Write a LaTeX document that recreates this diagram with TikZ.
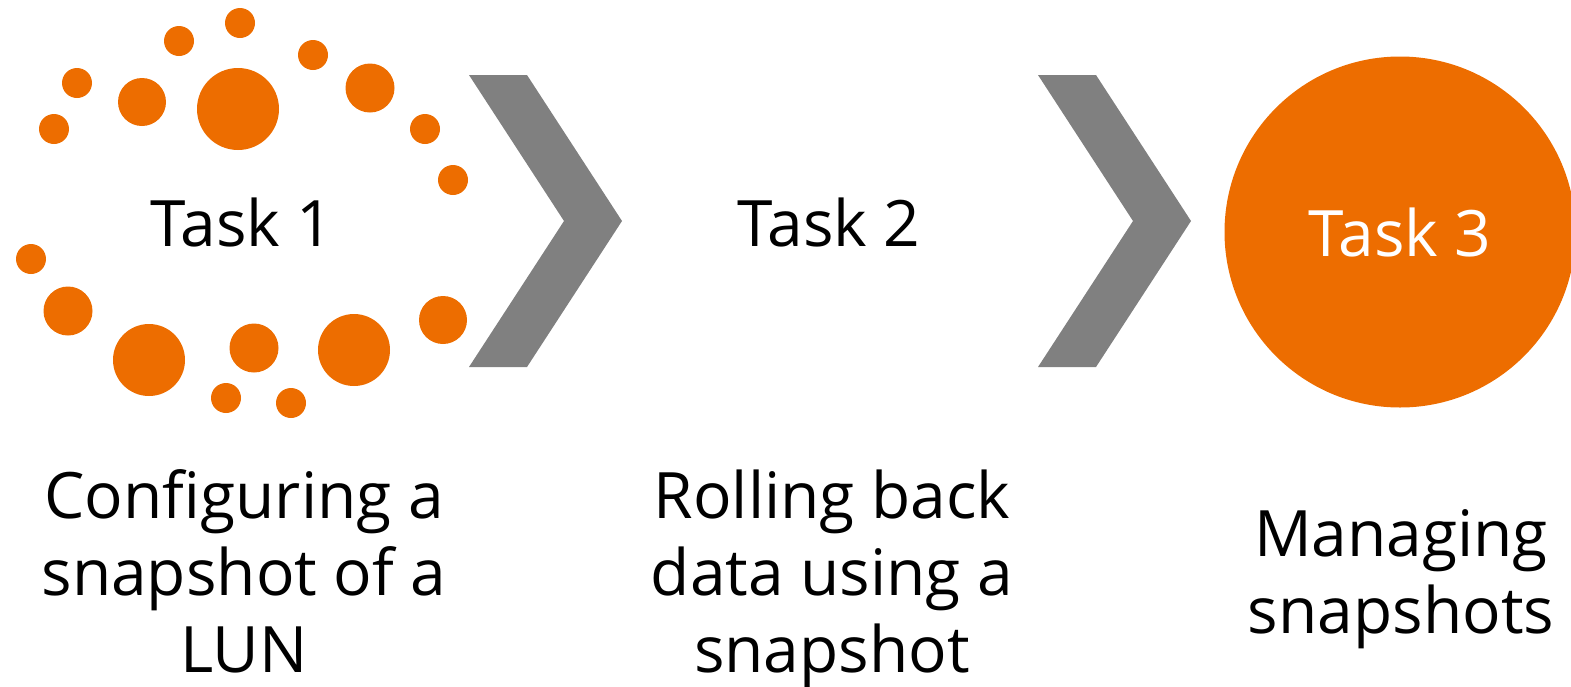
\documentclass[tikz,border=0pt]{standalone}
\usepackage{fontspec}
\setmainfont{Open Sans}
\definecolor{taskorange}{HTML}{ED6D00}
\definecolor{arrowgray}{HTML}{808080}
\tikzset{
    tasklabel/.style={font=\fontsize{64}{77}\selectfont, inner sep=0pt},
    taskcaption/.style={font=\fontsize{64}{77}\selectfont, align=center, inner sep=0pt, anchor=base},
    chevron/.style={fill=arrowgray, draw=none}
}
\begin{document}
\begin{tikzpicture}[x=1pt, y=-1pt]
    \useasboundingbox (0,0) rectangle (1571,686);

    % Task 1: ring of dots
    \foreach \px/\py/\r in {240/23/15, 179/41/15, 77/83/15, 54/129/15, 142/102/24,
        238/109/41, 313/55/15, 370/88/24.5, 425/129/15, 453/180/15,
        31/259/15, 68/311/24.5, 149/360/36, 254/348/24.5, 354/350/36,
        443/320/24, 226/398/15, 291/403/15} {
        \fill[taskorange] (\px,\py) circle[radius=\r];
    }
    \node[tasklabel] (task1) at (242,222) {Task 1};

    % Chevrons
    \fill[chevron] (469,75) -- (527,75) -- (622,221) -- (527,367) -- (469,367) -- (564,221) -- cycle;
    \fill[chevron] (1038,75) -- (1096,75) -- (1191,221) -- (1096,367) -- (1038,367) -- (1133,221) -- cycle;

    % Task 2
    \node[tasklabel] (task2) at (829,222) {Task 2};

    % Task 3: filled circle
    \node[circle, fill=taskorange, minimum size=351pt, inner sep=0pt] (task3) at (1400,232) {};
    \node[tasklabel, text=white] (task3label) at (task3) {Task 3};

    % Captions (base = last line)
    \node[taskcaption] (cap1) at (244,672) {Configuring a\\snapshot of a\\LUN};
    \node[taskcaption] (cap2) at (832,672) {Rolling back\\data using a\\snapshot};
    \node[taskcaption] (cap3) at (1401,633) {Managing\\snapshots};
\end{tikzpicture}
\end{document}
